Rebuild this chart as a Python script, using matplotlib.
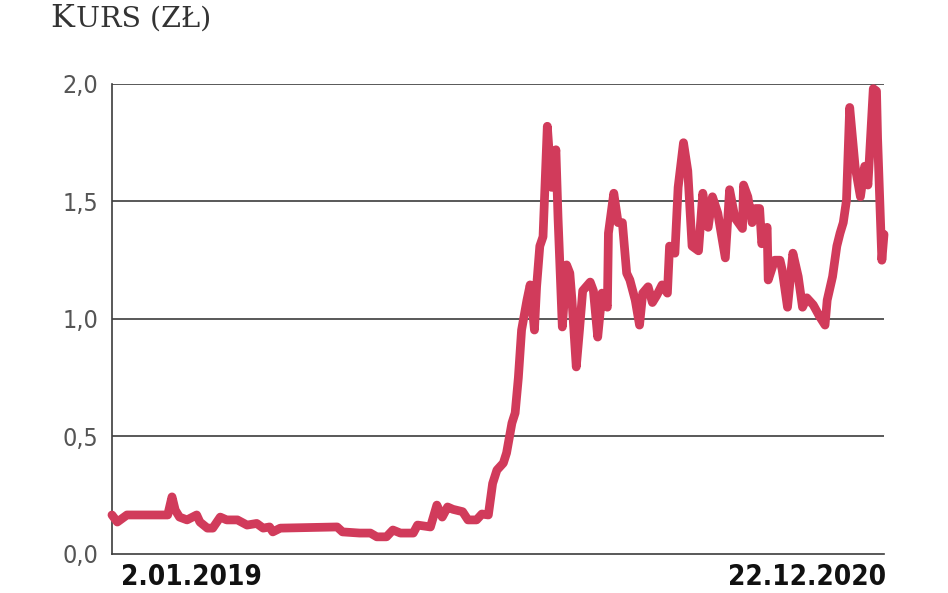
import matplotlib
matplotlib.use('Agg')
import matplotlib.pyplot as plt

# days since 2.01.2019 and share price (zl)
days = [0, 5, 14, 52, 56, 59, 63, 70, 79, 82, 89, 94, 101, 107, 117, 126, 135, 141,
        147, 150, 157, 210, 215, 231, 241, 247, 256, 262, 269, 281, 285, 297, 303,
        308, 313, 318, 327, 332, 340, 345, 351, 355, 359, 365, 368, 373, 376, 379,
        382, 387, 390, 394, 396, 399, 402, 406, 410, 414, 416, 420, 424, 427, 429,
        433, 436, 439, 446, 449, 453, 457, 462, 463, 468, 472, 476, 480, 483, 488,
        492, 495, 500, 504, 508, 513, 518, 520, 525, 528, 533, 537, 541, 547, 551,
        556, 560, 565, 572, 576, 581, 588, 589, 593, 597, 600, 604, 606, 611, 612,
        618, 623, 625, 630, 635, 640, 644, 648, 654, 660, 665, 667, 672, 676, 679,
        682, 685, 688, 693, 698, 702, 705, 710, 713, 714, 718, 720]
price = [0.166, 0.136, 0.166, 0.166, 0.243, 0.187, 0.157, 0.145, 0.166, 0.136, 0.11,
         0.11, 0.157, 0.145, 0.145, 0.123, 0.13, 0.11, 0.115, 0.094, 0.11, 0.115,
         0.094, 0.089, 0.089, 0.073, 0.073, 0.102, 0.089, 0.089, 0.123, 0.115, 0.208,
         0.157, 0.2, 0.19, 0.18, 0.145, 0.145, 0.17, 0.166, 0.30, 0.357, 0.387, 0.43,
         0.557, 0.60, 0.75, 0.953, 1.08, 1.145, 0.953, 1.137, 1.31, 1.35, 1.82, 1.56,
         1.72, 1.43, 0.966, 1.23, 1.195, 1.08, 0.796, 0.953, 1.12, 1.157, 1.12, 0.923,
         1.11, 1.05, 1.365, 1.535, 1.41, 1.41, 1.195, 1.166, 1.08, 0.974, 1.11, 1.137,
         1.07, 1.10, 1.145, 1.11, 1.31, 1.28, 1.56, 1.75, 1.63, 1.31, 1.29, 1.535,
         1.39, 1.52, 1.45, 1.26, 1.55, 1.43, 1.385, 1.57, 1.52, 1.41, 1.47, 1.47,
         1.32, 1.39, 1.166, 1.25, 1.25, 1.21, 1.05, 1.28, 1.18, 1.05, 1.09, 1.06,
         1.01, 0.974, 1.08, 1.18, 1.31, 1.365, 1.41, 1.505, 1.90, 1.65, 1.52, 1.65,
         1.57, 1.98, 1.97, 1.77, 1.25, 1.36]

y_ticks = [0.0, 0.5, 1.0, 1.5, 2.0]
y_labels = ['0,0', '0,5', '1,0', '1,5', '2,0']
start_label = '2.01.2019'
end_label = '22.12.2020'

grid_col = '#3c3c3c'

fig = plt.figure(figsize=(9.48, 5.93), dpi=100)
ax = fig.add_axes([0.1181, 0.0658, 0.8144, 0.7926])

for v in y_ticks[1:]:
    ax.axhline(v, color=grid_col, lw=1.2, zorder=1)

ax.plot(days, price, color='#d13b5b', lw=6.3, solid_joinstyle='round',
        solid_capstyle='round', zorder=3, clip_on=False)

ax.set_xlim(0, 720)
ax.set_ylim(0, 2.0)
ax.set_yticks(y_ticks)
ax.set_yticklabels(y_labels, family='DejaVu Sans', stretch='condensed',
                   fontsize=18, color='#555555')
ax.tick_params(axis='y', length=0, pad=10)
ax.set_xticks([])

for s in ['top', 'right']:
    ax.spines[s].set_visible(False)
for s in ['left', 'bottom']:
    ax.spines[s].set_color(grid_col)
    ax.spines[s].set_linewidth(1.2)

ax.text(0.012, -0.02, start_label, transform=ax.transAxes, ha='left', va='top',
        family='DejaVu Sans', stretch='condensed', fontsize=20, fontweight='bold',
        color='#111111')
ax.text(1.003, -0.02, end_label, transform=ax.transAxes, ha='right', va='top',
        family='DejaVu Sans', stretch='condensed', fontsize=20, fontweight='bold',
        color='#111111')

# title in small caps: big first letter, smaller rest
t1 = fig.text(50 / 948, 1 - 27 / 593, 'K', family='DejaVu Serif', fontsize=23,
              color='#333333', ha='left', va='baseline')
fig.canvas.draw()
bb = t1.get_window_extent()
fig.text(bb.x1 / fig.bbox.width + 0.002, 1 - 27 / 593, 'URS (ZŁ)', family='DejaVu Serif',
         fontsize=20.5, color='#333333', ha='left', va='baseline')

fig.savefig('out.png', dpi=100, facecolor='white')
